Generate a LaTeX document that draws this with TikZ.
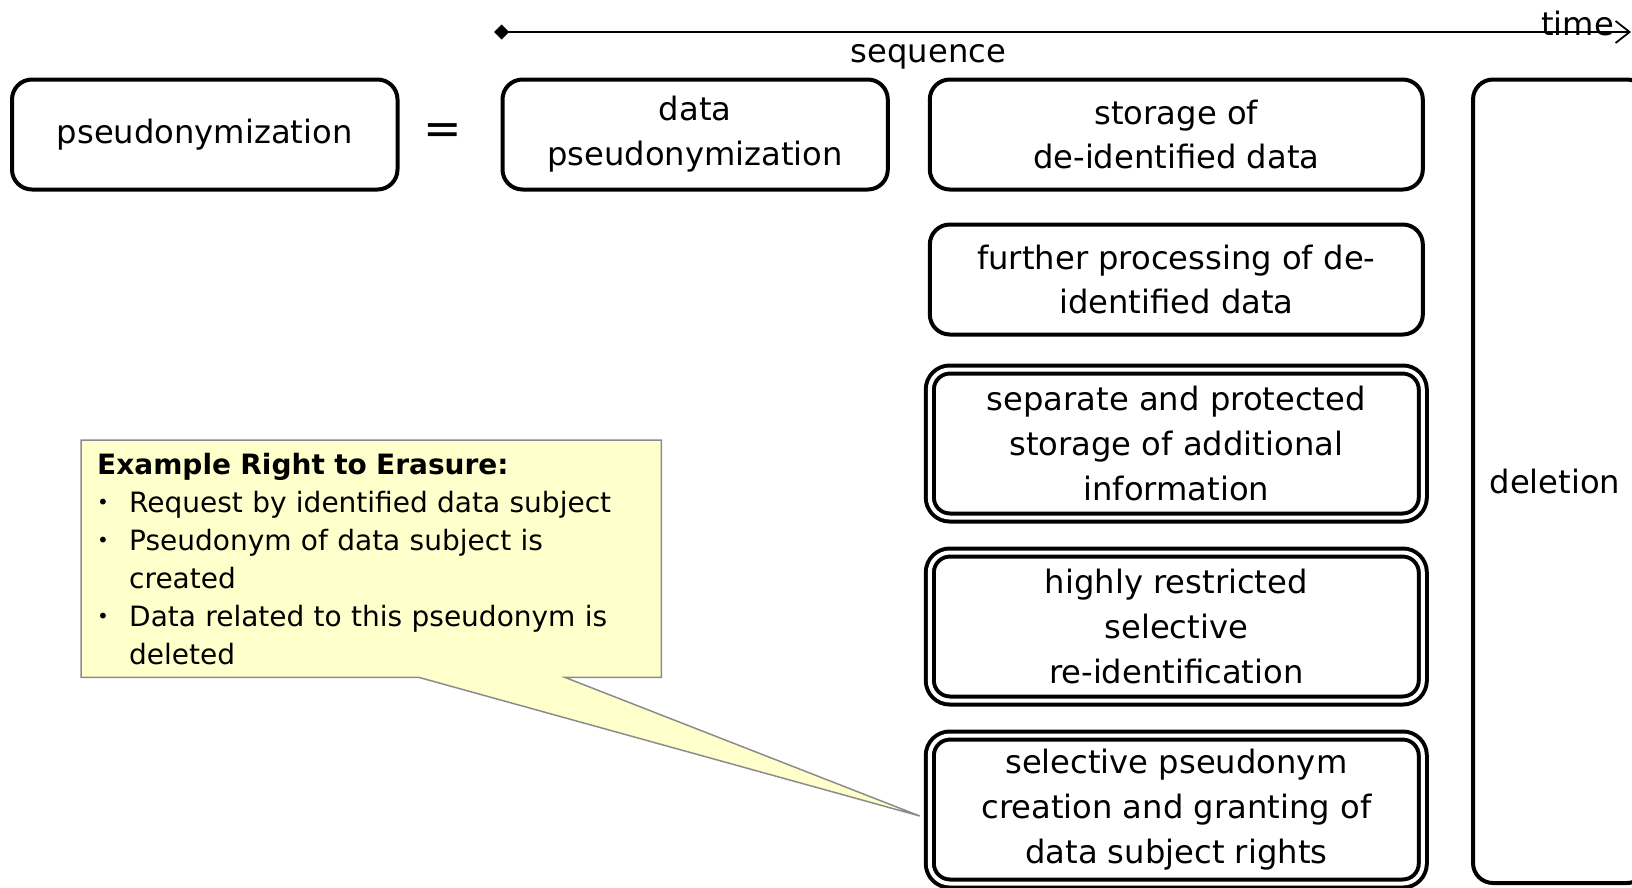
\documentclass[tikz,border=0pt]{standalone}
\usepackage{fontspec}
\setmainfont{DejaVu Sans}
\usepackage{tikz}
\usetikzlibrary{positioning}
\usetikzlibrary{calc,backgrounds}
\usetikzlibrary{arrows.meta}
\definecolor{notefill}{HTML}{FFFFCC}
\definecolor{noteline}{HTML}{8C8C8C}
\newcommand{\boxfont}{\fontsize{32.2}{44.8}\selectfont}
\newcommand{\notefont}{\fontsize{28}{38}\selectfont}
\newcommand{\noteitem}{\makebox[32pt][l]{\raisebox{3pt}{\fontsize{20}{20}\selectfont\textbullet}}}
\tikzstyle{phase}=[draw, line width=4pt, rounded corners=20pt, inner sep=0pt, outer sep=0pt, align=center]
\tikzstyle{guarded}=[phase, double, double distance=4pt]
\tikzstyle{timeline}=[line width=1.8pt, {Diamond[length=15pt,width=15pt]}-{Straight Barb[length=14pt,width=22pt]}]
\tikzset{notebox/.style={anchor=north west, inner xsep=16pt, inner ysep=8pt, align=left, font=\notefont}}

\begin{document}
\begin{tikzpicture}[x=1pt, y=-1pt, font=\boxfont]
    \useasboundingbox (0,0) rectangle (1632,887);

    % time axis with the sequence label
    \coordinate (seqstart) at (494,32);
    \coordinate (seqend) at (1631,32);
    \draw[timeline] (seqstart) -- (seqend)
      node[pos=0.382, below, inner sep=12pt] (seq) {sequence};
    \node[anchor=base west, inner sep=0pt] (time) at (1541,35) {time};

    % 1. term and its definition
    \node[phase, minimum width=385.5pt, minimum height=110pt] (pseu) at (204.75,134.5) {pseudonymization};
    \node[font=\fontsize{46}{46}\selectfont] (eq) at (443,134.5) {=};
    \node[phase, minimum width=385.3pt, minimum height=110pt, right=105pt of pseu] (pseudo) {data\\pseudonymization};

    % 2. column of processing steps
    \node[phase, minimum width=493pt, minimum height=110pt, right=42pt of pseudo] (store) {storage of\\de-identified data};
    \node[phase, minimum width=493pt, minimum height=110pt, below=35pt of store] (further) {further processing of de-\\identified data};
    \node[guarded, minimum width=493pt, minimum height=148pt, below=35pt of further] (separate) {separate and protected\\storage of additional\\information};
    \node[guarded, minimum width=493pt, minimum height=148pt, below=35pt of separate] (reident) {highly restricted\\selective\\re-identification};
    \node[guarded, minimum width=493pt, minimum height=148pt, below=35pt of reident] (sel) {selective pseudonym\\creation and granting of\\data subject rights};

    % 3. deletion spans the whole column
    \node[phase, minimum width=174pt, minimum height=803.5pt, anchor=north west] (delete) at (1473,79.5) {deletion\hspace*{10pt}};

    % callout with the erasure example
    \node[notebox, minimum width=580pt, minimum height=237pt, text width=548pt] (note) at (81,440)
      {\textbf{Example Right to Erasure:}\\
       \noteitem Request by identified data subject\\
       \noteitem Pseudonym of data subject is\\
       \hspace*{32pt}created\\
       \noteitem Data related to this pseudonym is\\
       \hspace*{32pt}deleted};
    \coordinate (tip) at ($(sel.west)+(-10,6.5)$);
    \begin{scope}[on background layer]
      \draw[noteline, fill=notefill, line width=1.5pt]
        (note.north west) -- (note.north east) -- (note.south east)
        -- ($(note.south west)+(484,0)$) -- (tip)
        -- ($(note.south west)+(338,0)$) -- (note.south west) -- cycle;
    \end{scope}
\end{tikzpicture}
\end{document}
